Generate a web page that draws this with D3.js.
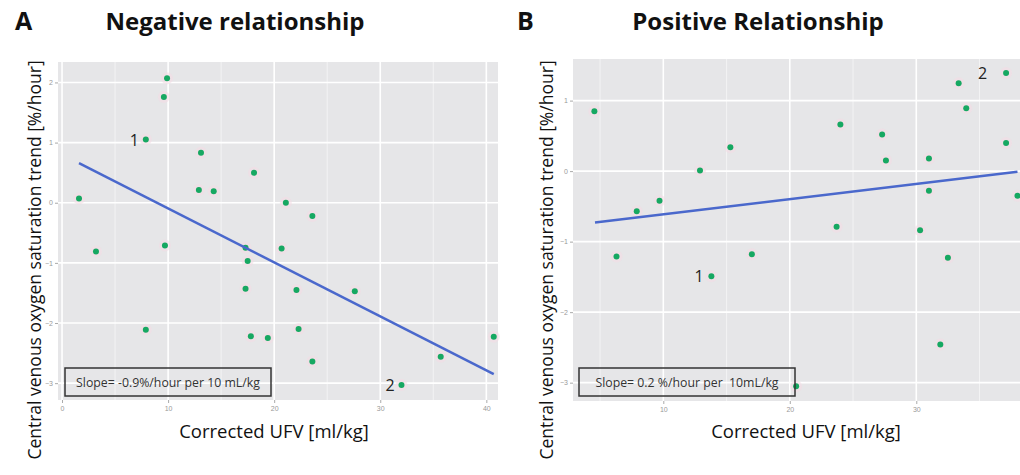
<!DOCTYPE html>
<html>
<head>
<meta charset="utf-8">
<script src="https://cdn.jsdelivr.net/npm/d3@7"></script>
<style>
  body { margin: 0; background: #fff; }
  svg { display: block; font-family: "Open Sans", "DejaVu Sans", sans-serif; }
</style>
</head>
<body>
<svg id="chart" width="1020" height="475"></svg>
<script>
// panel A: negative relationship
const negX = [1.6, 9.9, 9.6, 7.9, 13.1, 12.9, 14.3, 18.1, 21.1, 23.6, 3.2, 9.7, 17.3, 17.5, 20.7,
  17.3, 22.1, 7.9, 17.8, 19.4, 22.3, 27.6, 23.6, 35.7, 32.0, 40.7];
const negY = [0.07, 2.07, 1.76, 1.05, 0.83, 0.21, 0.19, 0.5, 0.0, -0.22, -0.81, -0.71, -0.75, -0.97, -0.76,
  -1.43, -1.45, -2.11, -2.22, -2.25, -2.1, -1.47, -2.64, -2.56, -3.03, -2.23];
const negFitX = [1.6, 40.7];
const negFitY = [0.66, -2.85];

// panel B: positive relationship
const posX = [4.55, 15.3, 12.9, 9.7, 7.9, 24.0, 27.3, 27.6, 31.0, 33.35, 37.1, 33.95, 37.1, 31.0, 38.0,
  23.7, 30.3, 6.3, 13.8, 17.0, 20.5, 32.5, 31.9];
const posY = [0.85, 0.34, 0.01, -0.42, -0.57, 0.66, 0.52, 0.15, 0.18, 1.245, 1.39, 0.89, 0.40, -0.28, -0.35,
  -0.79, -0.84, -1.21, -1.49, -1.18, -3.05, -1.23, -2.46];
const posFitX = [4.6, 38.0];
const posFitY = [-0.73, -0.01];

const xTicks = [0, 10, 20, 30, 40];
const yTicks = [-3, -2, -1, 0, 1, 2];

const svg = d3.select("#chart");

const panels = [
  {
    letter: "A", title: "Negative relationship", letterX: 15, titleX: 235,
    xs: negX, ys: negY, fitX: negFitX, fitY: negFitY,
    left: 58, right: 498, top: 62, bottom: 400,
    xDomain: [-0.38, 41.1], yDomain: [-3.28, 2.34],
    slope: "Slope= -0.9%/hour per 10 mL/kg", box: [65, 368, 206, 28],
    labels: [{i: 3, t: "1", dx: -16}, {i: 24, t: "2", dx: -16}],
    yLabelX: 34, xLabelX: 274
  },
  {
    letter: "B", title: "Positive Relationship", letterX: 517, titleX: 758,
    xs: posX, ys: posY, fitX: posFitX, fitY: posFitY,
    left: 573, right: 1020, top: 59, bottom: 401,
    xDomain: [2.86, 38.2], yDomain: [-3.26, 1.59],
    slope: "Slope= 0.2 %/hour per  10mL/kg", box: [579, 368, 216, 28],
    labels: [{i: 18, t: "1", dx: -17}, {i: 10, t: "2", dx: -28}],
    yLabelX: 546, xLabelX: 806
  }
];

panels.forEach(function(p) {
  const x = d3.scaleLinear().domain(p.xDomain).range([p.left, p.right]);
  const y = d3.scaleLinear().domain(p.yDomain).range([p.bottom, p.top]);
  const g = svg.append("g");

  // titles
  g.append("text").attr("x", p.letterX).attr("y", 30)
    .attr("font-size", 25).attr("font-weight", "bold").attr("fill", "#111").text(p.letter);
  g.append("text").attr("x", p.titleX).attr("y", 30).attr("text-anchor", "middle")
    .attr("font-size", 24).attr("font-weight", "bold").attr("fill", "#111").text(p.title);

  // panel background
  g.append("rect").attr("x", p.left).attr("y", p.top)
    .attr("width", p.right - p.left).attr("height", p.bottom - p.top)
    .attr("fill", "#e6e6e8");

  // minor grid
  const xMinor = d3.range(Math.ceil(p.xDomain[0] / 5) * 5, p.xDomain[1], 5).filter((v) => v % 10 !== 0);
  const yMinor = d3.range(Math.ceil(p.yDomain[0] * 2) / 2, p.yDomain[1], 1).filter((v) => v % 1 !== 0);
  g.selectAll(".xminor").data(xMinor).enter().append("line")
    .attr("x1", (d) => x(d)).attr("x2", (d) => x(d)).attr("y1", p.top).attr("y2", p.bottom)
    .attr("stroke", "#f3f3f4").attr("stroke-width", 1);
  g.selectAll(".yminor").data(yMinor).enter().append("line")
    .attr("y1", (d) => y(d)).attr("y2", (d) => y(d)).attr("x1", p.left).attr("x2", p.right)
    .attr("stroke", "#f3f3f4").attr("stroke-width", 1);

  // major grid
  const xt = xTicks.filter((v) => v >= p.xDomain[0] && v <= p.xDomain[1]);
  const yt = yTicks.filter((v) => v >= p.yDomain[0] && v <= p.yDomain[1]);
  g.selectAll(".xmajor").data(xt).enter().append("line")
    .attr("x1", (d) => x(d)).attr("x2", (d) => x(d)).attr("y1", p.top).attr("y2", p.bottom)
    .attr("stroke", "#fff").attr("stroke-width", 1.6);
  g.selectAll(".ymajor").data(yt).enter().append("line")
    .attr("y1", (d) => y(d)).attr("y2", (d) => y(d)).attr("x1", p.left).attr("x2", p.right)
    .attr("stroke", "#fff").attr("stroke-width", 1.6);

  // axes
  const xAxis = g.append("g").attr("transform", "translate(0," + p.bottom + ")")
    .call(d3.axisBottom(x).tickValues(xt).tickFormat(d3.format("d")).tickSize(3).tickPadding(3));
  const yAxis = g.append("g").attr("transform", "translate(" + p.left + ",0)")
    .call(d3.axisLeft(y).tickValues(yt).tickFormat(d3.format("d")).tickSize(3).tickPadding(2));
  [xAxis, yAxis].forEach(function(a) {
    a.select(".domain").remove();
    a.selectAll("line").attr("stroke", "#aaa");
    a.selectAll("text").attr("fill", "#999").attr("font-size", 7);
  });

  // points
  const pts = p.xs.map((v, i) => ({x: v, y: p.ys[i]}));
  g.selectAll(".halo").data(pts).enter().append("circle")
    .attr("cx", (d) => x(d.x)).attr("cy", (d) => y(d.y)).attr("r", 6)
    .attr("fill", "#f4dbe4").attr("opacity", 0.55);
  g.selectAll(".pt").data(pts).enter().append("circle")
    .attr("cx", (d) => x(d.x)).attr("cy", (d) => y(d.y)).attr("r", 3)
    .attr("fill", "#17a862");

  // fitted line
  const fit = p.fitX.map((v, i) => ({x: v, y: p.fitY[i]}));
  g.append("path").datum(fit)
    .attr("d", d3.line().x((d) => x(d.x)).y((d) => y(d.y)))
    .attr("fill", "none").attr("stroke", "#4a68cc").attr("stroke-width", 2.5);

  // outlier labels
  p.labels.forEach(function(l) {
    g.append("text").attr("x", x(pts[l.i].x) + l.dx).attr("y", y(pts[l.i].y) + 6)
      .attr("font-size", 16).attr("fill", "#222").text(l.t);
  });

  // slope box
  g.append("rect").attr("x", p.box[0]).attr("y", p.box[1])
    .attr("width", p.box[2]).attr("height", p.box[3])
    .attr("fill", "none").attr("stroke", "#333").attr("stroke-width", 1.5);
  g.append("text").attr("x", p.box[0] + p.box[2] / 2).attr("y", p.box[1] + p.box[3] / 2 + 4.5)
    .attr("text-anchor", "middle").attr("font-size", 12.3).attr("fill", "#333")
    .style("white-space", "pre").text(p.slope);

  // axis titles
  g.append("text").attr("x", p.xLabelX).attr("y", 438).attr("text-anchor", "middle")
    .attr("font-size", 18.5).attr("fill", "#111").text("Corrected UFV [ml/kg]");
  g.append("text")
    .attr("transform", "translate(" + (p.yLabelX + 7) + ",260) rotate(-90)")
    .attr("text-anchor", "middle").attr("font-size", 17.5).attr("fill", "#111")
    .text("Central venous oxygen saturation trend [%/hour]");
});
</script>
</body>
</html>
